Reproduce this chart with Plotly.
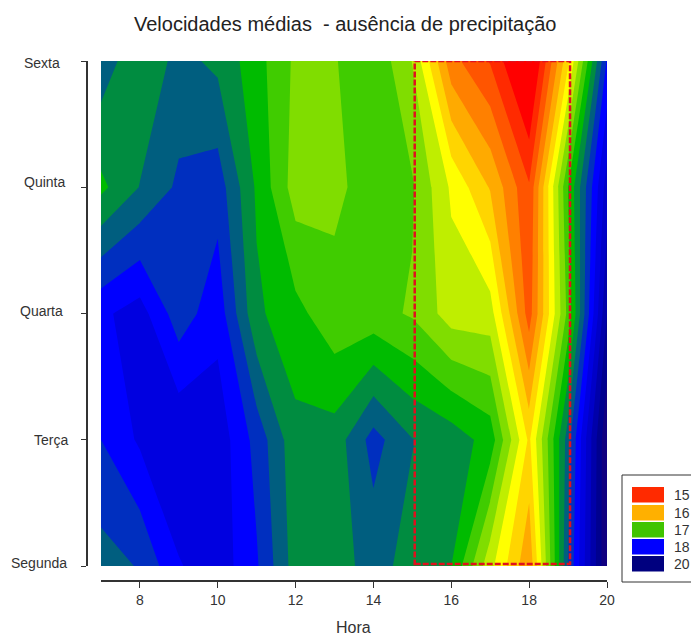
import plotly.graph_objects as go

horas = [7, 8, 9, 10, 11, 12, 13, 14, 15, 16, 17, 18, 19, 20]
dias = ["Segunda", "Terça", "Quarta", "Quinta", "Sexta"]
dia_pos = [1, 2, 3, 4, 5]

vel_segunda = [17.89, 18.02, 18.48, 18.65, 18.28, 17.63, 17.65, 17.84, 17.66, 17.50, 16.58, 15.80, 18.00, 19.75]
vel_terca   = [18.25, 18.54, 18.73, 18.66, 18.16, 17.58, 17.61, 18.10, 17.76, 17.64, 17.40, 16.20, 17.88, 19.75]
vel_quarta  = [18.45, 18.61, 18.11, 18.41, 17.55, 17.33, 17.08, 17.09, 16.97, 16.63, 16.61, 15.38, 17.08, 19.25]
vel_quinta  = [17.44, 17.76, 18.05, 18.14, 17.46, 16.88, 16.95, 17.10, 17.03, 16.46, 15.98, 15.28, 17.25, 18.88]
vel_sexta   = [17.90, 17.55, 17.83, 17.69, 17.35, 16.95, 16.98, 17.21, 16.74, 15.59, 15.23, 14.54, 16.20, 18.28]

band_colors = ["#FF0000", "#FF0000", "#FF0000", "#FF2A00", "#FF5500", "#FF8000", "#FFAA00", "#FFD500",
               "#FFFF00", "#BFEE00", "#80DD00", "#40CC00", "#00BB00", "#008C40", "#005E7F", "#002FBF",
               "#0000FF", "#0000E0", "#0000C8", "#0000AA", "#00008F", "#100080", "#200075", "#2A006F"]
level_start, level_size = 14.5, 0.25

legend_labels = ["15", "16", "17", "18", "20"]
legend_colors = ["#FF2A00", "#FFB000", "#40C400", "#0000FF", "#00007F"]
box_hours = [15.06, 19.05]

PX_L, PX_R, PX_T, PX_B = 87, 607, 61, 581
W, H = 691, 637
px = lambda v: (v - PX_L) / (PX_R - PX_L)
py = lambda v: (PX_B - v) / (PX_B - PX_T)
TXT = "#333333"

nc = len(band_colors) - 1
fig = go.Figure(go.Contour(
    x=horas, y=dia_pos,
    z=[vel_segunda, vel_terca, vel_quarta, vel_quinta, vel_sexta],
    contours=dict(coloring="fill", start=level_start, end=level_start + level_size * (nc - 1),
                  size=level_size, showlines=False),
    colorscale=[[i / nc, c] for i, c in enumerate(band_colors)],
    line=dict(width=0, smoothing=0), showscale=False, hoverinfo="skip",
))

shapes = [dict(type="rect", xref="x", yref="y", x0=box_hours[0], x1=box_hours[1], y0=1.016, y1=5,
               line=dict(color="#E0101E", width=2.5, dash="6px,2px"), layer="above")]
annotations = [dict(text="Velocidades médias  - ausência de precipitação", xref="paper", yref="paper",
                    x=px(345), y=py(24), showarrow=False, xanchor="center", yanchor="middle",
                    font=dict(size=20, color="#222222")),
               dict(text="Hora", xref="paper", yref="paper", x=px(353), y=py(627), showarrow=False,
                    xanchor="center", yanchor="middle", font=dict(size=16, color=TXT))]

for lab, cx, cy in zip(dias, [39, 51, 41, 44, 42], [563, 440, 311, 182, 63]):
    annotations.append(dict(text=lab, xref="paper", yref="paper", x=px(cx), y=py(cy), showarrow=False,
                            xanchor="center", yanchor="middle", font=dict(size=14, color=TXT)))

shapes.append(dict(type="rect", xref="paper", yref="paper", x0=px(622), x1=px(720), y0=py(582), y1=py(475),
                   line=dict(color="#333333", width=1), fillcolor="white"))
tops = [487, 505, 522, 539, 556]
for lab, col, t in zip(legend_labels, legend_colors, tops):
    shapes.append(dict(type="rect", xref="paper", yref="paper", x0=px(632), x1=px(664), y0=py(t + 15.5), y1=py(t),
                       line=dict(width=0), fillcolor=col))
    annotations.append(dict(text=lab, xref="paper", yref="paper", x=px(672), y=py(t + 7.5), showarrow=False,
                            xanchor="left", yanchor="middle", font=dict(size=14, color=TXT)))

fig.update_layout(
    width=W, height=H, autosize=False, paper_bgcolor="white", plot_bgcolor="white",
    margin=dict(l=PX_L, r=W - PX_R, t=PX_T, b=H - PX_B, pad=0),
    font=dict(family="Liberation Sans, Arial, sans-serif", color=TXT, size=13),
    showlegend=False, shapes=shapes, annotations=annotations,
    xaxis=dict(domain=[px(101), 1], range=[7, 20], anchor="free", position=0,
               tickvals=[8, 10, 12, 14, 16, 18, 20], ticks="outside", ticklen=6, tickwidth=1, tickcolor=TXT,
               showline=True, linecolor=TXT, linewidth=1.5, showgrid=False, zeroline=False,
               tickfont=dict(size=14, color=TXT)),
    yaxis=dict(domain=[py(566), 1], range=[1, 5], anchor="free", position=0,
               tickvals=dia_pos, ticktext=[""] * 5, ticks="outside", ticklen=5, tickwidth=1, tickcolor=TXT,
               showline=True, linecolor=TXT, linewidth=1.5, showgrid=False, zeroline=False),
)
fig.write_html("out.html", config={"displayModeBar": False},
               post_script="document.body.style.margin='0';document.documentElement.style.overflow='hidden';")
